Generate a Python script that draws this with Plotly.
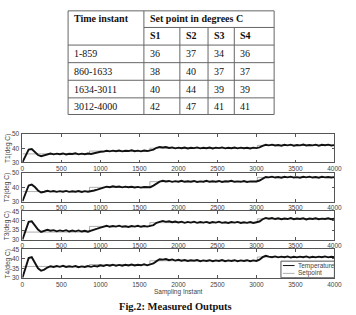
import plotly.graph_objects as go

W, H = 356, 315

# ---------------- data ----------------
table_ranges = ["1-859", "860-1633", "1634-3011", "3012-4000"]
table_s1 = [36, 38, 40, 42]
table_s2 = [37, 40, 44, 47]
table_s3 = [34, 37, 39, 41]
table_s4 = [36, 37, 39, 41]
sensor_names = ["S1", "S2", "S3", "S4"]

step_times = [0, 860, 1634, 3012, 4000]

samples = list(range(0, 4001, 40))

temp1 = [30.0, 34.6, 39.0, 39.4, 37.6, 35.2, 34.4, 35.0, 35.9, 36.3,
         35.7, 36.2, 35.8, 36.3, 35.6, 36.1, 35.9, 36.4, 35.7, 36.2,
         35.8, 36.3, 35.9, 36.5, 36.8, 37.5, 37.6, 38.2, 37.8, 38.3,
         37.9, 38.4, 37.8, 38.2, 38.0, 38.5, 37.9, 38.3, 37.8, 38.4,
         38.0, 38.3, 39.0, 40.3, 40.9, 40.5, 40.8, 40.2, 40.6, 39.9,
         40.4, 40.0, 40.5, 39.8, 40.3, 40.1, 40.6, 39.9, 40.3, 40.0,
         40.5, 39.8, 40.4, 40.1, 40.6, 39.9, 40.3, 40.0, 40.5, 39.9,
         40.4, 40.0, 40.3, 39.8, 40.4, 40.1, 40.6, 41.7, 42.4, 42.0,
         42.5, 41.9, 42.3, 41.8, 42.4, 42.0, 42.5, 41.8, 42.3, 42.0,
         42.6, 41.9, 42.3, 42.0, 42.5, 41.8, 42.4, 42.1, 42.5, 41.9,
         42.2]
temp2 = [30.0, 36.2, 41.3, 41.9, 40.2, 37.8, 36.4, 36.9, 37.6, 37.0,
         37.4, 36.8, 37.3, 36.9, 37.5, 36.8, 37.2, 36.9, 37.4, 36.7,
         37.3, 36.9, 37.2, 37.8, 38.4, 39.3, 39.8, 40.5, 40.1, 40.7,
         40.2, 40.6, 40.0, 40.5, 40.1, 40.4, 39.9, 40.3, 39.8, 40.2,
         39.9, 40.1, 41.2, 42.8, 44.0, 44.6, 44.1, 44.5, 43.9, 44.4,
         44.0, 44.6, 43.9, 44.3, 44.0, 44.5, 43.8, 44.2, 44.0, 44.6,
         43.9, 44.3, 44.0, 44.5, 43.8, 44.3, 44.1, 44.6, 43.9, 44.2,
         43.9, 44.4, 43.8, 44.2, 43.9, 44.1, 44.8, 46.2, 47.3, 47.0,
         47.5, 46.9, 47.3, 46.8, 47.4, 47.0, 47.5, 46.9, 47.2, 46.8,
         47.4, 47.0, 47.5, 46.9, 47.3, 46.8, 47.4, 47.0, 47.3, 46.9,
         47.2]
temp3 = [30.0, 35.2, 39.4, 39.7, 37.8, 35.3, 34.1, 34.6, 35.2, 34.7,
         35.0, 34.4, 34.9, 34.5, 35.0, 34.3, 34.8, 34.4, 34.9, 34.3,
         34.7, 34.2, 34.6, 35.1, 35.8, 36.4, 36.9, 37.3, 36.8, 37.2,
         36.9, 37.4, 36.8, 37.1, 36.7, 37.2, 36.9, 37.3, 36.8, 37.2,
         36.9, 37.1, 37.7, 38.9, 39.6, 39.9, 39.4, 39.7, 39.2, 39.6,
         39.1, 39.5, 38.9, 39.4, 39.0, 39.5, 38.9, 39.3, 39.0, 39.4,
         38.8, 39.3, 39.0, 39.5, 38.9, 39.2, 38.8, 39.3, 39.0, 39.4,
         38.8, 39.2, 38.9, 39.3, 38.8, 39.1, 39.6, 40.8, 41.5, 41.1,
         41.4, 40.9, 41.3, 40.8, 41.2, 40.9, 41.4, 40.8, 41.2, 40.9,
         41.3, 40.7, 41.2, 40.9, 41.3, 40.8, 41.1, 40.9, 41.3, 40.8,
         41.1]
temp4 = [30.0, 35.6, 40.4, 40.9, 38.2, 35.0, 33.7, 34.3, 35.4, 36.1,
         35.7, 36.2, 35.8, 36.3, 35.7, 36.1, 35.8, 36.2, 35.6, 36.0,
         35.7, 36.2, 35.8, 36.3, 36.0, 36.6, 36.2, 36.8, 36.4, 36.9,
         36.3, 36.8, 36.4, 36.9, 36.5, 37.0, 36.5, 36.9, 36.6, 37.1,
         36.6, 37.0, 37.6, 38.8, 39.8, 39.6, 39.9, 39.3, 39.7, 39.1,
         39.5, 39.0, 39.4, 38.9, 39.3, 39.0, 39.4, 38.8, 39.2, 38.9,
         39.3, 38.8, 39.2, 38.9, 39.4, 38.8, 39.2, 38.9, 39.3, 38.8,
         39.2, 38.9, 39.3, 38.8, 39.2, 38.9, 39.6, 40.9, 41.6, 41.2,
         40.9, 41.3, 40.8, 41.2, 40.9, 41.3, 40.7, 41.1, 40.8, 41.2,
         40.9, 41.3, 40.7, 41.1, 40.8, 41.2, 40.9, 41.3, 40.8, 41.1,
         40.9]

temps = [temp1, temp2, temp3, temp4]
setpoints = [table_s1, table_s2, table_s3, table_s4]
y_titles = ["T1(deg C)", "T2(deg C)", "T3(deg C)", "T4(deg C)"]
y_ranges = [[30, 50], [30, 50], [30, 45], [30, 45]]
y_ticks = [[30, 40, 50], [30, 40, 50], [30, 35, 40, 45], [30, 35, 40, 45]]
x_ticks = [0, 500, 1000, 1500, 2000, 2500, 3000, 3500, 4000]

# ---------------- helpers ----------------
def px(x):
    return x / W

def py(y):
    return 1 - y / H

SERIF = "Liberation Serif"
SANS = "Liberation Sans"
GRID = "#555555"

fig = go.Figure()
shapes = []
annotations = []

# ---------------- table ----------------
col_x = [68, 146, 183, 212, 239, 280]
row_y = [7, 24, 42, 60, 78, 96, 113]
tcol = "#666666"
for i, y in enumerate(row_y):
    x0 = col_x[1] if i == 1 else col_x[0]
    shapes.append(dict(type="line", xref="paper", yref="paper",
                       x0=px(x0), x1=px(col_x[-1]), y0=py(y), y1=py(y),
                       line=dict(color=tcol, width=1)))
for j, x in enumerate(col_x):
    y0 = row_y[1] if j in (2, 3, 4) else row_y[0]
    shapes.append(dict(type="line", xref="paper", yref="paper",
                       x0=px(x), x1=px(x), y0=py(y0), y1=py(row_y[-1]),
                       line=dict(color=tcol, width=1)))

def tabtext(x, y, s, bold=False):
    annotations.append(dict(x=px(x), y=py(y), xref="paper", yref="paper",
                            text=("<b>%s</b>" % s) if bold else s,
                            showarrow=False, xanchor="left", yanchor="middle",
                            font=dict(family=SERIF, size=10, color="#111")))

tabtext(col_x[0] + 4, 14.5, "Time instant", True)
tabtext(col_x[1] + 4, 14.5, "Set point in degrees C", True)
for j, name in enumerate(sensor_names):
    tabtext(col_x[j + 1] + 4, 32.5, name, True)
rows = list(zip(table_ranges, table_s1, table_s2, table_s3, table_s4))
for i, r in enumerate(rows):
    yc = (row_y[i + 2] + row_y[i + 3]) / 2
    for j, v in enumerate(r):
        tabtext(col_x[j] + 4, yc, str(v))

# ---------------- plots ----------------
plot_px = [(133, 162), (173, 202), (212, 241), (251, 280)]
xdom = [px(21), px(342)]

for k in range(4):
    ax = "" if k == 0 else str(k + 1)
    sp_x = []
    sp_y = []
    for i, v in enumerate(setpoints[k]):
        sp_x += [step_times[i], step_times[i + 1]]
        sp_y += [v, v]
    fig.add_trace(go.Scatter(x=sp_x, y=sp_y, mode="lines",
                             line=dict(color="#9a9a9a", width=0.8),
                             xaxis="x" + ax, yaxis="y" + ax, showlegend=False))
    fig.add_trace(go.Scatter(x=samples, y=temps[k], mode="lines",
                             line=dict(color="#111111", width=1.9),
                             xaxis="x" + ax, yaxis="y" + ax, showlegend=False))
    top, bot = plot_px[k]
    common = dict(showline=True, linecolor=GRID, linewidth=1, mirror="allticks",
                  ticks="inside", ticklen=2.5, tickcolor=GRID, showgrid=False,
                  zeroline=False, tickfont=dict(family=SANS, size=6.5, color="#444"))
    fig.update_layout(**{
        "xaxis" + ax: dict(domain=xdom, range=[0, 4000], tickvals=x_ticks,
                           anchor="y" + ax, ticklabelstandoff=0, **common),
        "yaxis" + ax: dict(domain=[py(bot), py(top)], range=y_ranges[k],
                           tickvals=y_ticks[k], anchor="x" + ax,
                           ticklabelstandoff=1, **common),
    })
    annotations.append(dict(x=px(6), y=py((top + bot) / 2), xref="paper", yref="paper",
                            text=y_titles[k], textangle=-90, showarrow=False,
                            xanchor="center", yanchor="middle",
                            font=dict(family=SANS, size=6.5, color="#444")))

# manual legend box in last panel
lx0, lx1, ly0, ly1 = 287, 342, 263, 280
shapes.append(dict(type="rect", xref="paper", yref="paper",
                   x0=px(lx0), x1=px(lx1), y0=py(ly1), y1=py(ly0),
                   line=dict(color=GRID, width=1), fillcolor="white"))
shapes.append(dict(type="line", xref="paper", yref="paper",
                   x0=px(289), x1=px(301), y0=py(267.5), y1=py(267.5),
                   line=dict(color="#111", width=1)))
shapes.append(dict(type="line", xref="paper", yref="paper",
                   x0=px(289), x1=px(301), y0=py(275.5), y1=py(275.5),
                   line=dict(color="#9a9a9a", width=0.8)))
for yy, s in [(267.5, "Temperature"), (275.5, "Setpoint")]:
    annotations.append(dict(x=px(303), y=py(yy), xref="paper", yref="paper",
                            text=s, showarrow=False, xanchor="left", yanchor="middle",
                            font=dict(family=SANS, size=6.5, color="#444")))

annotations.append(dict(x=px(182), y=py(295), xref="paper", yref="paper",
                        text="Sampling Instant", showarrow=False,
                        xanchor="center", yanchor="middle",
                        font=dict(family=SANS, size=6.5, color="#444")))
annotations.append(dict(x=px(178), y=py(309.5), xref="paper", yref="paper",
                        text="<b>Fig.2: Measured Outputs</b>", showarrow=False,
                        xanchor="center", yanchor="middle",
                        font=dict(family=SERIF, size=10.5, color="#111")))

fig.update_layout(width=W, height=H, margin=dict(l=0, r=0, t=0, b=0),
                  paper_bgcolor="white", plot_bgcolor="white",
                  shapes=shapes, annotations=annotations, showlegend=False)

fig.write_html("out.html", config={"displayModeBar": False})
